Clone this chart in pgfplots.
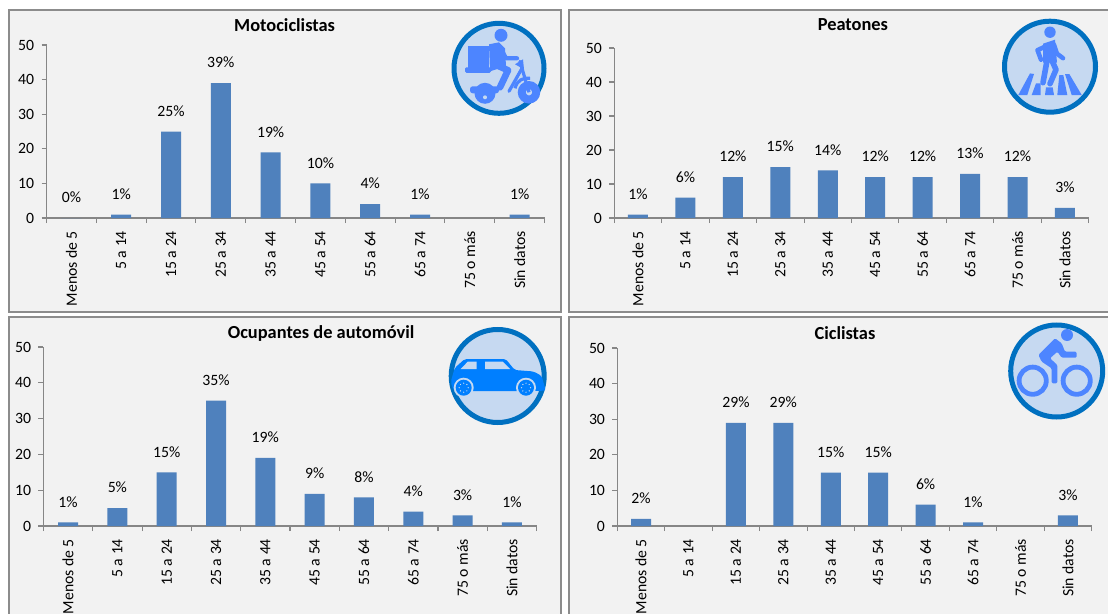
\documentclass[border=0pt]{standalone}
\usepackage{fontspec}
\setmainfont{Carlito}
\usepackage{pgfplots}
\pgfplotsset{compat=1.18}
\definecolor{barblue}{HTML}{4F81BD}
\definecolor{axisgray}{HTML}{868686}
\definecolor{framegray}{HTML}{8C8C8C}
\definecolor{panelbg}{HTML}{F2F2F2}
\definecolor{ringblue}{HTML}{0070C0}
\definecolor{ringfill}{HTML}{C6D9F1}
\definecolor{iconblue}{HTML}{4D85FF}
\definecolor{carblue}{HTML}{007FFF}
\pgfplotsset{
  panel/.style={
    scale only axis,
    anchor=south west,
    /pgf/number format/assume math mode=true,
    ybar,
    bar shift=0pt,
    ymin=0, ymax=50,
    xmin=-0.5, xmax=9.5,
    ytick={0,10,...,50},
    xtick={0,...,9},
    xticklabels={Menos de 5,5 a 14,15 a 24,25 a 34,35 a 44,45 a 54,55 a 64,65 a 74,75 o más,Sin datos},
    minor xtick={-0.5,0.5,...,9.5},
    axis x line*=bottom,
    axis y line*=left,
    tick align=outside,
    major tick length=3.75pt,
    minor tick length=3.75pt,
    axis line style={draw=axisgray,line width=0.8pt},
    ytick style={draw=axisgray,line width=0.8pt},
    xtick style={draw=none},
    minor x tick style={draw=axisgray,line width=0.8pt},
    tick label style={font=\fontsize{11.8}{14}\selectfont,text=black},
    x tick label style={rotate=90,anchor=east},
    xticklabel shift=2.5pt,
    yticklabel shift=2pt,
    every axis title shift=0pt,
    title style={font=\fontsize{13.8}{16}\selectfont\bfseries,anchor=center},
    nodes near coords={\pgfmathprintnumber{\pgfplotspointmeta}\%},
    every node near coord/.append style={font=\fontsize{11.8}{14}\selectfont,anchor=center,yshift=15.4pt,text=black},
  },
  panelbar/.style={fill=barblue,draw=none},
}
\newcommand{\ring}[1]{\draw[ringblue,fill=ringfill,line width=3.75pt] (0,0) circle (#1);}
\begin{document}
\begin{tikzpicture}[x=0.75pt,y=-0.75pt]
\path[clip,use as bounding box] (0,0) rectangle (1108,614);
\fill[white] (0,0) rectangle (1108,614);
% panel frames
\draw[framegray,fill=panelbg,line width=1.5pt] (8.5,10) rectangle (560.5,311.5);
\draw[framegray,fill=panelbg,line width=1.5pt] (569,10) rectangle (1125,311.5);
\draw[framegray,fill=panelbg,line width=1.5pt] (8.5,317) rectangle (560.5,630);
\draw[framegray,fill=panelbg,line width=1.5pt] (569,317) rectangle (1125,630);

\begin{axis}[panel,at={(34.9pt,-163.5pt)},width=373.5pt,height=129.75pt,bar width=15pt,
  title={Motociclistas},title style={at={(0.478,1.116)}}]
\addplot[panelbar] coordinates {(0,0) (1,1) (2,25) (3,39) (4,19) (5,10) (6,4) (7,1) (9,1)};
\end{axis}

\begin{axis}[panel,at={(460.7pt,-163.5pt)},width=355.8pt,height=127.5pt,bar width=15pt,
  title={Peatones},title style={at={(0.503,1.135)}}]
\addplot[panelbar] coordinates {(0,1) (1,6) (2,12) (3,15) (4,14) (5,12) (6,12) (7,13) (8,12) (9,3)};
\end{axis}

\begin{axis}[panel,at={(32.55pt,-394.5pt)},width=369.9pt,height=134.25pt,bar width=15pt,
  title={Ocupantes de automóvil},title style={at={(0.563,1.078)}}]
\addplot[panelbar] coordinates {(0,1) (1,5) (2,15) (3,35) (4,19) (5,9) (6,8) (7,4) (8,3) (9,1)};
\end{axis}

\begin{axis}[panel,at={(463pt,-394.5pt)},width=355.7pt,height=133.5pt,bar width=15pt,
  title={Ciclistas},title style={at={(0.48,1.084)}}]
\addplot[panelbar] coordinates {(0,2) (2,29) (3,29) (4,15) (5,15) (6,6) (7,1) (9,3)};
\end{axis}

% moto icon
\begin{scope}[shift={(499,68.3)}]
  \ring{45}
  \begin{scope}[iconblue]
    \fill (2,-33) circle (6.5);
    \fill (-30.7,-22.7) rectangle (-10,1);
    \fill[rounded corners=1pt] (-34,-1) rectangle (-8,4.5);
    \fill (-10,-24) -- (0,-26) -- (6,-20) -- (7,-2) -- (-9,3) -- cycle;
    \draw[line width=3.2pt,line cap=round,line join=round] (2.7,-18) -- (7,-10) -- (18,-10);
    \draw[line width=5pt,line cap=round,line join=round] (-2,-3) -- (9,2) -- (1,19);
    \fill (-14,25) circle (10.5);
    \fill[ringfill] (-14,29) circle (2);
    \fill[rounded corners=2pt] (-29,18) rectangle (0,25);
    \draw[line width=2.4pt,line cap=round] (10,23) -- (23,0) -- (21,-7);
    \fill (24,-9) -- (16,-4) -- (25,1) -- cycle;
    \draw[line width=2.4pt] (23,0) -- (30,24);
    \draw[line width=2.4pt] (16,20) .. controls (18,12) and (24,9) .. (31,10);
    \draw[line width=6pt] (30,24) circle (7.2);
  \end{scope}
\end{scope}

% pedestrian icon
\begin{scope}[shift={(1050,66.7)}]
  \ring{45.5}
  \begin{scope}[iconblue,line cap=round,line join=round]
    \fill (0,-34.5) circle (5.7);
    \draw[line width=3.4pt] (-1,-22) -- (-12.5,-16.5) -- (-9,-7);
    \draw[line width=3.4pt] (4,-22) -- (7,-13) -- (13,-8.5);
    \fill (-7,-23) -- (5,-27) -- (7,-4) -- (-7,-4) -- cycle;
    \draw[line width=4.2pt] (-3,-6) -- (-7,16);
    \draw[line width=4.2pt] (2,-6) -- (6,3) -- (0,17);
    \fill (-31.7,28.3) -- (-20,6.7) -- (-16,7.3) -- (-22.7,28.3) -- cycle;
    \fill (-18.3,28.3) -- (-14,16.7) -- (-9.3,16.7) -- (-9.3,28.3) -- cycle;
    \fill (-5,28.3) -- (-4,20.7) -- (2.7,20.7) -- (4,28.3) -- cycle;
    \fill (7.3,28.3) -- (9.3,8.3) -- (13.3,8.3) -- (17.3,28.3) -- cycle;
    \fill (15,7.3) -- (19.3,7.3) -- (31.7,28.3) -- (21.7,28.3) -- cycle;
  \end{scope}
\end{scope}

% car icon
\begin{scope}[shift={(497.7,376)}]
  \ring{46.5}
  \fill[carblue,rounded corners=1.5pt] (-47,6) -- (-43,-8) -- (-33,-17) -- (-25,-17) -- (8,-17) -- (17,-6) -- (36,-4.5) -- (44,0) -- (48,14.5) -- (39,15) -- (-35,15) -- (-44,15) -- cycle;
  \fill[ringfill] (-37,-7) -- (-30,-14.3) -- (-21,-14.3) -- (-21,-7) -- cycle;
  \fill[ringfill] (-12.7,-14.3) -- (5,-14.3) -- (12.3,-7) -- (-12.7,-7) -- cycle;
  \foreach \wx in {-34,28.3}{
    \fill[ringfill] (\wx,11.7) circle (10);
    \fill[carblue] (\wx,11.7) circle (8);
    \foreach \a in {0,45,...,315}
      \fill[ringfill] (\wx,11.7) ++(\a:4.5) circle (0.7);
  }
\end{scope}

% cyclist icon
\begin{scope}[shift={(1056.7,371)}]
  \ring{46}
  \fill[iconblue] (10.3,-36) circle (6);
  \fill[iconblue,rounded corners=1pt] (-18.3,-16) -- (-1.7,-32.7) -- (5,-27.7) -- (8.3,-19.3) -- (20,-19.3) -- (20,-13.3) -- (5,-13.3) -- (0.7,-19.3) -- (-6.7,-12.7) -- (0.7,-6) -- (0.7,12.3) -- (-5,12.3) -- (-5,-2.7) -- (-15,-9.3) -- cycle;
  \draw[iconblue,line width=3.6pt] (-24,9.7) circle (13.6);
  \draw[iconblue,line width=3.6pt] (20,9.7) circle (13.6);
\end{scope}
\end{tikzpicture}
\end{document}
